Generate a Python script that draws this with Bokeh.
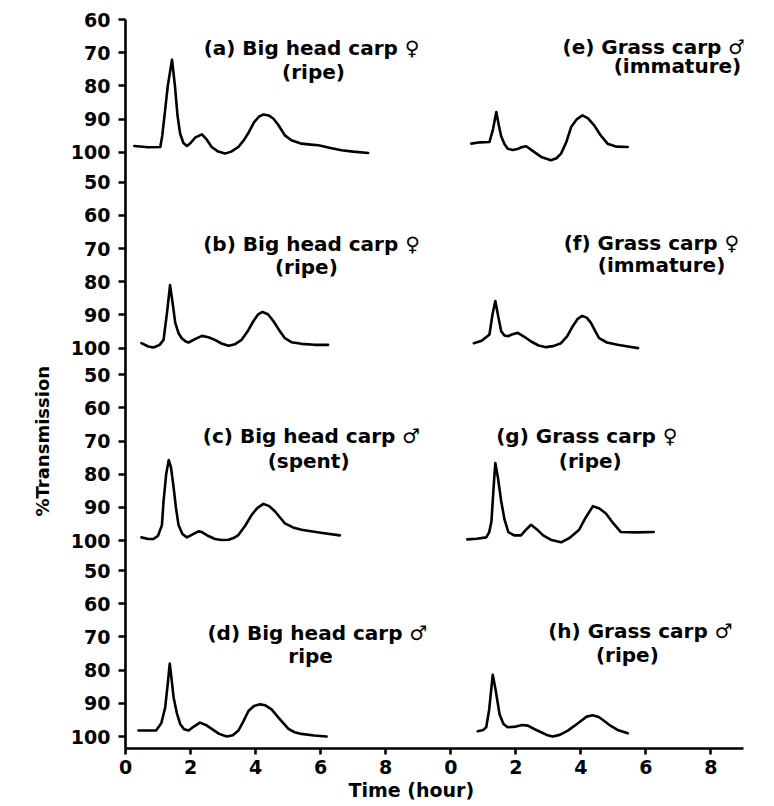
from bokeh.plotting import figure
from bokeh.models import FixedTicker, Label, Range1d, Title
from bokeh.embed import file_html
from bokeh.resources import INLINE

# ---------------- data (time in hours, % transmission) ----------------
t_a = [0.27, 0.7, 1.07, 1.13, 1.2, 1.3, 1.43, 1.52, 1.6, 1.68, 1.78, 1.89, 2.0, 2.15, 2.35, 2.5, 2.65, 2.85, 3.06, 3.25, 3.47, 3.65, 3.8, 3.95, 4.1, 4.24, 4.4, 4.55, 4.7, 4.9, 5.1, 5.41, 5.7, 5.93, 6.3, 6.64, 7.0, 7.46]
v_a = [98.1, 98.5, 98.4, 95.0, 88.9, 80.0, 72.1, 80.0, 89.0, 94.4, 97.2, 98.1, 97.2, 95.5, 94.6, 96.2, 98.4, 99.8, 100.4, 99.8, 98.4, 96.2, 93.8, 91.0, 89.3, 88.6, 88.9, 89.9, 91.8, 94.9, 96.4, 97.4, 97.7, 97.9, 98.7, 99.4, 99.8, 100.2]

t_b = [0.49, 0.7, 0.86, 1.05, 1.17, 1.28, 1.37, 1.45, 1.53, 1.63, 1.73, 1.85, 1.94, 2.15, 2.35, 2.55, 2.75, 2.95, 3.17, 3.37, 3.57, 3.75, 3.93, 4.08, 4.21, 4.38, 4.55, 4.72, 4.90, 5.1, 5.41, 5.8, 6.23]
v_b = [98.5, 99.5, 99.8, 99.0, 97.5, 89.0, 81.0, 86.5, 92.4, 95.5, 97.0, 98.0, 98.3, 97.2, 96.3, 96.7, 97.5, 98.6, 99.3, 98.8, 97.5, 95.0, 91.9, 89.8, 89.1, 89.8, 91.9, 94.5, 97.0, 98.2, 98.7, 99.0, 99.0]

t_c = [0.49, 0.7, 0.86, 1.0, 1.12, 1.17, 1.25, 1.33, 1.40, 1.48, 1.55, 1.63, 1.75, 1.89, 2.05, 2.24, 2.35, 2.55, 2.75, 2.95, 3.17, 3.32, 3.47, 3.68, 3.88, 4.05, 4.24, 4.42, 4.60, 4.75, 4.90, 5.15, 5.41, 6.0, 6.59]
v_c = [99.0, 99.5, 99.5, 98.5, 95.3, 88.1, 80.0, 75.7, 78.0, 84.0, 90.0, 95.3, 98.0, 99.0, 98.2, 97.2, 97.4, 98.6, 99.5, 99.8, 99.7, 99.2, 98.3, 95.5, 92.2, 90.2, 88.9, 89.6, 91.2, 93.0, 94.8, 96.0, 96.7, 97.6, 98.4]

t_d = [0.40, 0.94, 1.1, 1.22, 1.30, 1.36, 1.42, 1.48, 1.58, 1.68, 1.8, 1.94, 2.1, 2.29, 2.47, 2.65, 2.88, 3.11, 3.3, 3.47, 3.62, 3.78, 3.95, 4.13, 4.3, 4.49, 4.75, 5.01, 5.2, 5.41, 5.8, 6.18]
v_d = [98.2, 98.2, 96.0, 91.3, 84.0, 78.0, 83.0, 88.3, 93.0, 96.2, 97.8, 98.2, 97.0, 95.8, 96.5, 97.7, 99.2, 100.0, 99.6, 98.2, 95.5, 92.3, 90.8, 90.3, 90.6, 91.8, 94.8, 97.7, 98.7, 99.2, 99.7, 100.0]

t_e = [0.63, 0.9, 1.19, 1.3, 1.40, 1.48, 1.55, 1.65, 1.75, 1.9, 2.05, 2.2, 2.32, 2.55, 2.78, 3.08, 3.25, 3.39, 3.55, 3.70, 3.88, 4.05, 4.22, 4.41, 4.6, 4.82, 5.1, 5.44]
v_e = [97.4, 97.0, 96.9, 93.0, 87.9, 92.0, 95.2, 97.5, 98.9, 99.3, 99.0, 98.4, 98.2, 99.8, 101.4, 102.4, 101.8, 100.4, 97.0, 92.4, 90.0, 88.9, 89.8, 91.9, 94.8, 97.4, 98.3, 98.4]

t_f = [0.71, 0.95, 1.19, 1.28, 1.37, 1.46, 1.55, 1.65, 1.75, 1.9, 2.06, 2.25, 2.47, 2.7, 2.93, 3.15, 3.39, 3.57, 3.75, 3.9, 4.04, 4.18, 4.31, 4.45, 4.56, 4.8, 5.13, 5.45, 5.76]
v_f = [98.5, 97.8, 95.9, 90.0, 85.8, 90.5, 94.9, 96.2, 96.4, 95.8, 95.4, 96.5, 98.0, 99.2, 99.7, 99.4, 98.5, 96.5, 93.4, 91.2, 90.3, 90.8, 92.4, 95.0, 97.0, 98.3, 99.0, 99.5, 100.0]

t_g = [0.51, 0.8, 1.09, 1.18, 1.25, 1.31, 1.37, 1.45, 1.55, 1.65, 1.77, 1.95, 2.16, 2.3, 2.47, 2.65, 2.84, 3.1, 3.39, 3.65, 3.94, 4.15, 4.37, 4.57, 4.77, 5.0, 5.23, 5.7, 6.24]
v_g = [99.6, 99.4, 99.0, 97.5, 94.3, 85.0, 76.6, 81.0, 88.1, 93.5, 97.4, 98.4, 98.4, 96.8, 95.2, 96.6, 98.4, 99.8, 100.5, 99.2, 96.8, 93.0, 89.6, 90.3, 91.8, 94.8, 97.4, 97.5, 97.4]

t_h = [0.83, 1.0, 1.09, 1.18, 1.29, 1.38, 1.50, 1.62, 1.75, 2.0, 2.2, 2.37, 2.58, 2.78, 2.95, 3.13, 3.35, 3.60, 3.8, 4.00, 4.18, 4.36, 4.55, 4.72, 4.92, 5.13, 5.44]
v_h = [98.4, 98.0, 97.2, 92.0, 81.4, 86.0, 93.3, 96.2, 97.2, 97.0, 96.5, 96.7, 97.8, 98.7, 99.5, 100.0, 99.5, 98.2, 96.8, 95.3, 94.0, 93.6, 94.1, 95.3, 96.8, 98.0, 99.0]

panel_titles = ["(a) Big head carp \u2640", "(e) Grass carp \u2642",
                "(b) Big head carp \u2640", "(f) Grass carp \u2640",
                "(c) Big head carp \u2642", "(g) Grass carp  \u2640",
                "(d) Big head carp \u2642", "(h) Grass carp \u2642"]
panel_sub = ["(ripe)", "(immature)", "(ripe)", "(immature)",
             "(spent)", "(ripe)", "ripe", "(ripe)"]

x_tick_labels = ["0", "2", "4", "6", "8", "0", "2", "4", "6", "8"]
y_tick_values_top = [60, 70, 80, 90, 100]
y_tick_values = [50, 60, 70, 80, 90, 100]

# ---------------- layout ----------------
OFFS = [176, 117, 59, 0]      # stacked position of each row's 100 % line
XOFF = [0, 10]                # left / right block
FONT = "DejaVu Sans"

p = figure(width=774, height=806, output_backend="svg", toolbar_location=None,
           x_range=Range1d(0, 19), y_range=Range1d(-3.6, 216),
           min_border_left=125, min_border_right=31, min_border_top=19,
           min_border_bottom=58)
p.outline_line_color = None
p.grid.visible = False
p.background_fill_color = "white"

series = [(t_a, v_a), (t_e, v_e), (t_b, v_b), (t_f, v_f),
          (t_c, v_c), (t_g, v_g), (t_d, v_d), (t_h, v_h)]
for i, (tt, vv) in enumerate(series):
    row, col = i // 2, i % 2
    xs = [t + XOFF[col] for t in tt]
    ys = [OFFS[row] + 100 - v for v in vv]
    p.line(xs, ys, line_color="black", line_width=2.6, line_join="round", line_cap="round")

# ticks
xt = list(range(0, 20, 2))
p.xaxis.ticker = FixedTicker(ticks=xt, minor_ticks=[])
p.xaxis.major_label_overrides = {k: lab for k, lab in zip(xt, x_tick_labels)}

yt, ylab = [], {}
for row in range(4):
    vals = y_tick_values_top if row == 0 else y_tick_values
    for v in vals:
        pos = OFFS[row] + 100 - v
        yt.append(pos)
        ylab[pos] = str(v)
p.yaxis.ticker = FixedTicker(ticks=sorted(yt), minor_ticks=[])
p.yaxis.major_label_overrides = ylab

for ax in (p.xaxis, p.yaxis):
    ax.axis_line_width = 2.6
    ax.axis_line_color = "black"
    ax.major_tick_line_width = 2.6
    ax.major_tick_line_color = "black"
    ax.major_tick_in = 0
    ax.minor_tick_line_color = None
    ax.major_label_text_font = FONT
    ax.major_label_text_font_style = "bold"
    ax.major_label_text_font_size = "19px"
    ax.major_label_text_color = "black"
p.yaxis.major_tick_out = 7
p.yaxis.major_label_standoff = 8
p.xaxis.major_tick_out = 6
p.xaxis.major_label_standoff = 5

# panel labels
lab_pos = [(5.72, 207.3, 5.78, 200.3), (16.26, 207.6, 16.97, 202.1),
           (5.72, 148.5, 5.56, 141.3), (16.17, 148.8, 16.48, 141.9),
           (5.72, 90.4, 5.63, 82.9), (14.29, 90.4, 14.29, 82.9),
           (5.90, 31.3, 5.69, 24.4), (15.83, 31.9, 15.43, 24.7)]
for (x1, y1, x2, y2), t1, t2 in zip(lab_pos, panel_titles, panel_sub):
    for x, y, txt in ((x1, y1, t1), (x2, y2, t2)):
        p.add_layout(Label(x=x, y=y, text=txt, text_align="center",
                           text_baseline="middle", text_font=FONT,
                           text_font_style="bold", text_font_size="20px",
                           text_color="black"))

# axis titles
p.add_layout(Title(text="Time (hour)", align="left", offset=223, standoff=0,
                   text_font=FONT, text_font_style="bold", text_font_size="19px",
                   text_color="black"), "below")
p.add_layout(Title(text="%Transmission", align="left", offset=232, standoff=30,
                   text_font=FONT, text_font_style="bold", text_font_size="18px",
                   text_color="black"), "left")

open("out.html", "w").write(file_html(p, INLINE))
